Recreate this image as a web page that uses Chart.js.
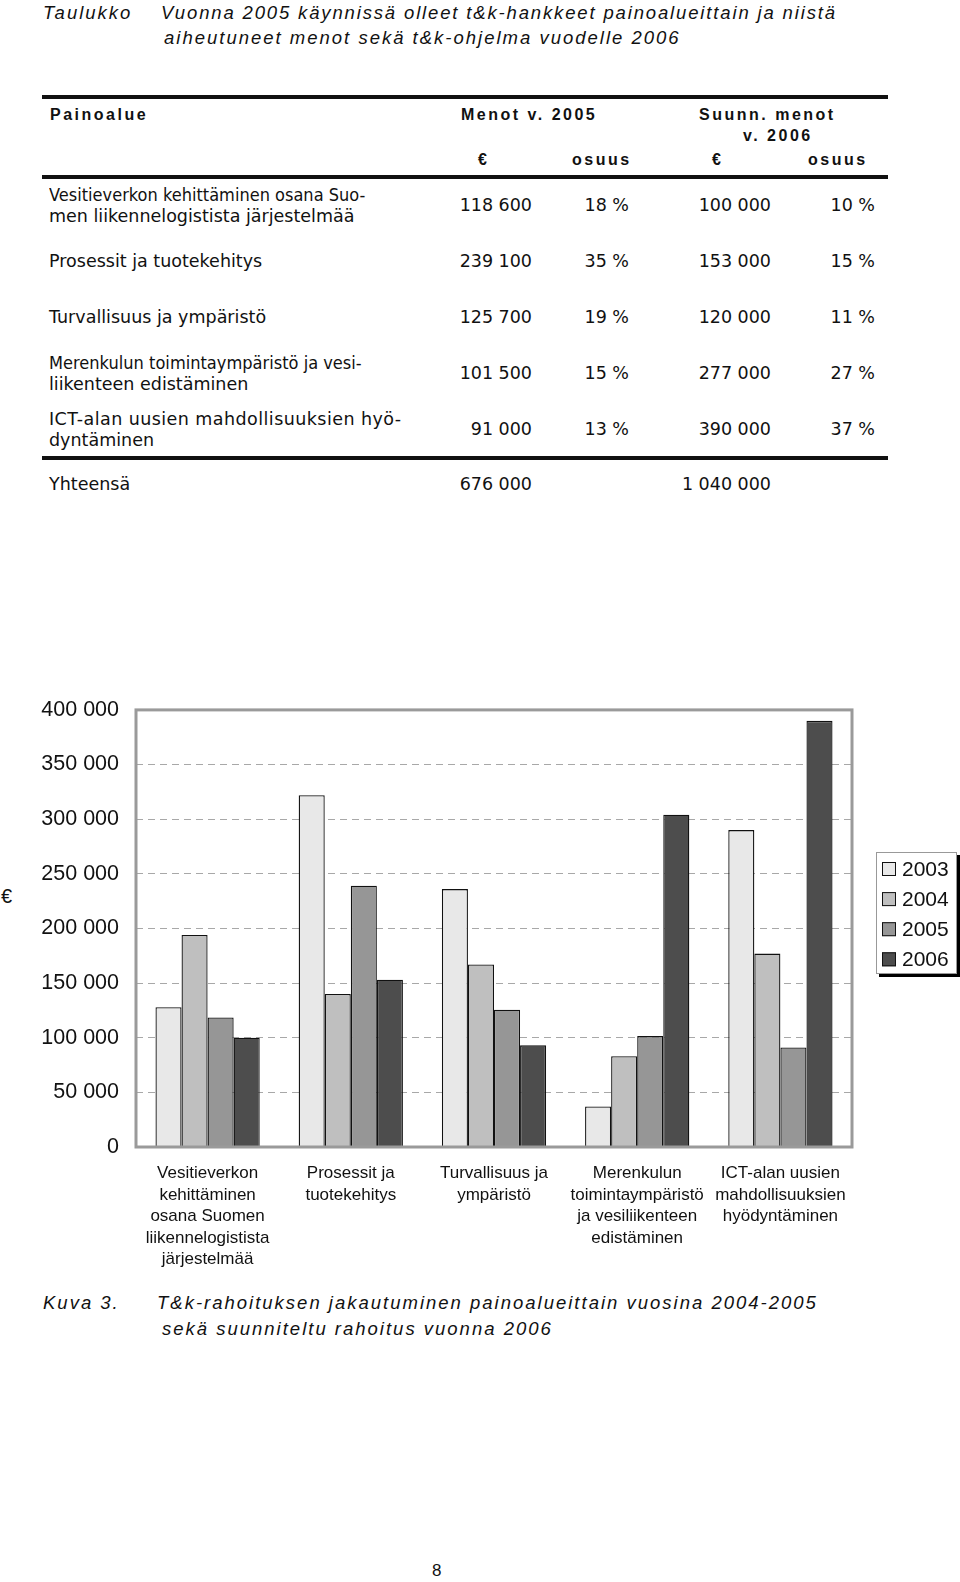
<!DOCTYPE html>
<html>
<head>
<meta charset="utf-8">
<script src="https://cdn.jsdelivr.net/npm/chart.js@4.4.0/dist/chart.umd.min.js"></script>
<style>
  body { margin: 0; width: 960px; height: 1582px; background: #fff; position: relative; overflow: hidden; color: #111; }
  .t { position: absolute; white-space: nowrap; line-height: 21px; }
  .it { font-family: "Liberation Sans", Arial, sans-serif; font-style: italic; font-size: 18.5px; letter-spacing: 2px; }
  .hd { font-family: "Liberation Sans", Arial, sans-serif; font-weight: bold; font-size: 16px; letter-spacing: 2.5px; }
  .vd { font-family: "DejaVu Sans", Verdana, sans-serif; font-size: 17.5px; }
  .num { text-align: right; }
  .sq { transform-origin: 0 50%; }
  .rule { position: absolute; left: 42px; width: 846px; height: 4px; background: #111; }
  #chartBox { position: absolute; left: 0; top: 680px; width: 960px; height: 600px; }
</style>
</head>
<body>

<div class="t it" style="left:43px; top:2px;">Taulukko</div>
<div class="t it" style="left:161px; top:2px; letter-spacing:1.85px;">Vuonna 2005 käynnissä olleet t&amp;k-hankkeet painoalueittain ja niistä</div>
<div class="t it" style="left:164px; top:27px;">aiheutuneet menot sekä t&amp;k-ohjelma vuodelle 2006</div>

<div class="rule" style="top:95px;"></div>
<div class="t hd" style="left:50px; top:104px;">Painoalue</div>
<div class="t hd" style="left:461px; top:104px;">Menot v. 2005</div>
<div class="t hd" style="left:699px; top:104px;">Suunn. menot</div>
<div class="t hd" style="left:743px; top:125px;">v. 2006</div>
<div class="t hd" style="left:478px; top:149px;">€</div>
<div class="t hd" style="left:572px; top:149px;">osuus</div>
<div class="t hd" style="left:712px; top:149px;">€</div>
<div class="t hd" style="left:808px; top:149px;">osuus</div>
<div class="rule" style="top:175px;"></div>

<div class="t vd sq" style="left:49px; top:185px; transform:scaleX(0.926);">Vesitieverkon kehittäminen osana Suo-</div>
<div class="t vd" style="left:49px; top:206px;">men liikennelogistista järjestelmää</div>
<div class="t vd num" style="right:428px; top:195px;">118 600</div>
<div class="t vd num" style="right:331px; top:195px;">18 %</div>
<div class="t vd num" style="right:189px; top:195px;">100 000</div>
<div class="t vd num" style="right:85px; top:195px;">10 %</div>

<div class="t vd" style="left:49px; top:251px;">Prosessit ja tuotekehitys</div>
<div class="t vd num" style="right:428px; top:251px;">239 100</div>
<div class="t vd num" style="right:331px; top:251px;">35 %</div>
<div class="t vd num" style="right:189px; top:251px;">153 000</div>
<div class="t vd num" style="right:85px; top:251px;">15 %</div>

<div class="t vd" style="left:49px; top:307px;">Turvallisuus ja ympäristö</div>
<div class="t vd num" style="right:428px; top:307px;">125 700</div>
<div class="t vd num" style="right:331px; top:307px;">19 %</div>
<div class="t vd num" style="right:189px; top:307px;">120 000</div>
<div class="t vd num" style="right:85px; top:307px;">11 %</div>

<div class="t vd sq" style="left:49px; top:353px; transform:scaleX(0.928);">Merenkulun toimintaympäristö ja vesi-</div>
<div class="t vd" style="left:49px; top:374px;">liikenteen edistäminen</div>
<div class="t vd num" style="right:428px; top:363px;">101 500</div>
<div class="t vd num" style="right:331px; top:363px;">15 %</div>
<div class="t vd num" style="right:189px; top:363px;">277 000</div>
<div class="t vd num" style="right:85px; top:363px;">27 %</div>

<div class="t vd" style="left:49px; top:409px; letter-spacing:0.44px;">ICT-alan uusien mahdollisuuksien hyö-</div>
<div class="t vd" style="left:49px; top:430px;">dyntäminen</div>
<div class="t vd num" style="right:428px; top:419px;">91 000</div>
<div class="t vd num" style="right:331px; top:419px;">13 %</div>
<div class="t vd num" style="right:189px; top:419px;">390 000</div>
<div class="t vd num" style="right:85px; top:419px;">37 %</div>
<div class="rule" style="top:456px;"></div>

<div class="t vd" style="left:49px; top:474px;">Yhteensä</div>
<div class="t vd num" style="right:428px; top:474px;">676 000</div>
<div class="t vd num" style="right:189px; top:474px;">1 040 000</div>

<div class="t" style="left:1px; top:886px; font-family:'Liberation Sans', Arial, sans-serif; font-size:20px;">€</div>

<div id="chartBox"><canvas id="barChart" width="960" height="600"></canvas></div>

<div class="t it" style="left:43px; top:1292px;">Kuva 3.</div>
<div class="t it" style="left:157px; top:1292px;">T&amp;k-rahoituksen jakautuminen painoalueittain vuosina 2004-2005</div>
<div class="t it" style="left:162px; top:1318px;">sekä suunniteltu rahoitus vuonna 2006</div>

<div class="t" style="left:432px; top:1560px; font-family:'Liberation Sans', Arial, sans-serif; font-size:17px;">8</div>

<script>
// chart data
const categories = [
    ['Vesitieverkon', 'kehittäminen', 'osana Suomen', 'liikennelogistista', 'järjestelmää'],
    ['Prosessit ja', 'tuotekehitys'],
    ['Turvallisuus ja', 'ympäristö'],
    ['Merenkulun', 'toimintaympäristö', 'ja vesiliikenteen', 'edistäminen'],
    ['ICT-alan uusien', 'mahdollisuuksien', 'hyödyntäminen']
];
const years = ['2003', '2004', '2005', '2006'];
const values2003 = [128000, 322000, 236000, 37000, 290000];
const values2004 = [194000, 140000, 167000, 83000, 177000];
const values2005 = [118600, 239100, 125700, 101500, 91000];
const values2006 = [100000, 153000, 93000, 304000, 390000];
const yTicks = [0, 50000, 100000, 150000, 200000, 250000, 300000, 350000, 400000];

const fills = ['#e8e8e8', '#bfbfbf', '#969696', '#4d4d4d'];
const seriesValues = [values2003, values2004, values2005, values2006];
const FONT = "'Liberation Sans', Arial, sans-serif";

function fmt(v) {
    return String(v).replace(/\B(?=(\d{3})+(?!\d))/g, ' ');
}

// gray frame round the plot
const framePlugin = {
    id: 'frame',
    afterDatasetsDraw(chart) {
        const a = chart.chartArea;
        const ctx = chart.ctx;
        ctx.save();
        ctx.strokeStyle = '#9a9a9a';
        ctx.lineWidth = 3;
        ctx.strokeRect(a.left, a.top, a.right - a.left, a.bottom - a.top);
        ctx.restore();
    }
};

// boxed legend with a black drop shadow
const legendPlugin = {
    id: 'boxLegend',
    afterDraw(chart) {
        const ctx = chart.ctx;
        const x = 876, y = 172, w = 81, h = 122;
        ctx.save();
        ctx.fillStyle = '#000';
        ctx.fillRect(x + 3, y + 3, w, h);
        ctx.fillStyle = '#fff';
        ctx.fillRect(x, y, w, h);
        ctx.strokeStyle = '#999';
        ctx.lineWidth = 1;
        ctx.strokeRect(x + 0.5, y + 0.5, w - 1, h - 1);
        ctx.font = '21px ' + FONT;
        ctx.textBaseline = 'middle';
        chart.data.datasets.forEach((ds, i) => {
            const cy = y + 17 + i * 30.1;
            ctx.fillStyle = ds.backgroundColor;
            ctx.fillRect(x + 6, cy - 7, 14, 14);
            ctx.strokeStyle = '#111';
            ctx.strokeRect(x + 6.5, cy - 6.5, 13, 13);
            ctx.fillStyle = '#111';
            ctx.fillText(ds.label, x + 26, cy + 1);
        });
        ctx.restore();
    }
};

const ctx = document.getElementById('barChart').getContext('2d');
const myChart = new Chart(ctx, {
    type: 'bar',
    data: {
        labels: categories,
        datasets: years.map((y, i) => ({
            label: y,
            data: seriesValues[i],
            backgroundColor: fills[i],
            borderColor: '#111',
            borderWidth: 1.3,
            barPercentage: 1.0,
            categoryPercentage: 0.728
        }))
    },
    options: {
        responsive: false,
        animation: false,
        layout: { padding: { top: 23, right: 108, left: 0, bottom: 0 } },
        plugins: { legend: { display: false }, tooltip: { enabled: false } },
        scales: {
            x: {
                grid: { display: false },
                border: { display: false },
                afterFit(axis) { axis.height = 133; },
                ticks: {
                    color: '#111',
                    padding: 8,
                    maxRotation: 0,
                    autoSkip: false,
                    font: { family: FONT, size: 17, lineHeight: 1.26 }
                }
            },
            y: {
                min: 0,
                max: 400000,
                afterFit(axis) { axis.width = 136; },
                afterBuildTicks(axis) { axis.ticks = yTicks.map(v => ({ value: v })); },
                grid: {
                    color: ctx => (ctx.tick && (ctx.tick.value === 0 || ctx.tick.value === 400000)) ? 'rgba(0,0,0,0)' : '#a8a8a8',
                    lineWidth: 1,
                    drawTicks: false
                },
                border: { display: false, dash: [7, 5] },
                ticks: {
                    color: '#111',
                    padding: 17,
                    font: { family: FONT, size: 21.5 },
                    callback: v => fmt(v)
                }
            }
        }
    },
    plugins: [framePlugin, legendPlugin]
});
</script>
</body>
</html>
